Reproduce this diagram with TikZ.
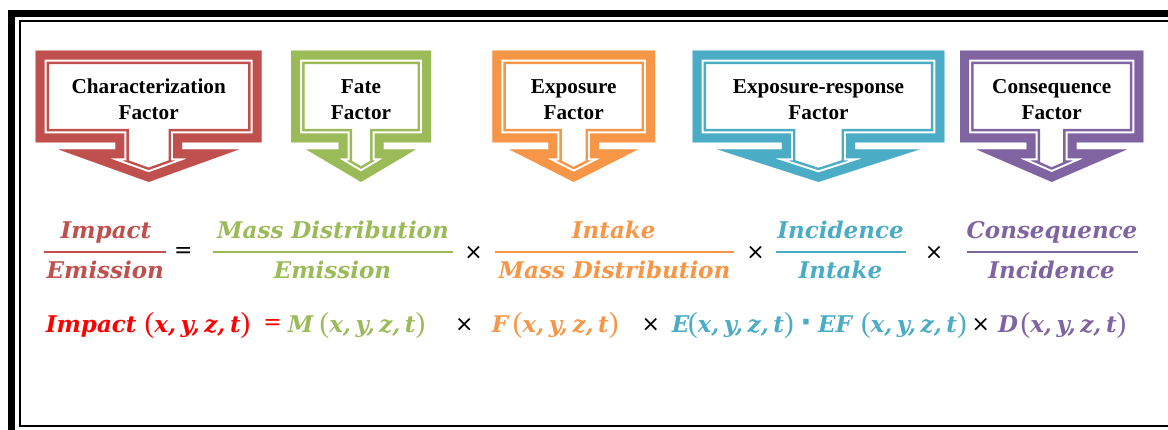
\documentclass[tikz,border=0pt]{standalone}
\usepackage{fontspec}
\setmainfont{Liberation Serif}
\newfontfamily\eqfont{DejaVu Serif}
\newfontfamily\symfont{DejaVu Sans}
\definecolor{accred}{HTML}{C0504D}
\definecolor{accgreen}{HTML}{9BBB59}
\definecolor{accorange}{HTML}{F79646}
\definecolor{accblue}{HTML}{4BACC6}
\definecolor{accpurple}{HTML}{8064A2}
\definecolor{purered}{HTML}{FF0000}
% argument list (x, y, z, t) with upright brackets
\newcommand\parfnt{\normalfont\fontsize{29}{29}\selectfont}
\newcommand\argsep{,\hspace{4.6pt}}
\newcommand\xyzt{{\parfnt(}x\argsep y\argsep z\argsep t{\parfnt)}}
\tikzset{
  every node/.style={inner sep=0pt, outer sep=0pt},
  line join=miter,
  cshape/.style n args={4}{insert path={
    ({#1-#2},50.7) -- ({#1+#2},50.7) -- ({#1+#2},142.5) -- ({#1+#3},142.5) --
    ({#1+#3},149.5) -- ({#1+#4},149.5) -- (#1,181.9) -- ({#1-#4},149.5) --
    ({#1-#3},149.5) -- ({#1-#3},142.5) -- ({#1-#2},142.5) -- cycle}},
  calloutlabel/.style={align=center, font=\fontsize{21.2}{26}\selectfont\bfseries, anchor=base},
  eq/.style={font=\fontsize{23}{24}\selectfont\eqfont\bfseries\itshape, anchor=base},
  eqw/.style={eq, anchor=base west},
  op/.style={font=\fontsize{22}{22}\selectfont\symfont, anchor=center, text=black},
  fracbar/.style={line width=1.8pt},
}
% down-pointing callout with a thick-thin border
\newcommand\calloutbox[7]{%
  \begin{scope}
    \clip[cshape={#1}{#2}{#3}{#4}];
    \draw[#5, line width=27pt, cshape={#1}{#2}{#3}{#4}];
    \draw[white, line width=22pt, cshape={#1}{#2}{#3}{#4}];
    \draw[#5, line width=18pt, cshape={#1}{#2}{#3}{#4}];
  \end{scope}
  \node[calloutlabel] (#6) at (#1,119.2) {#7};
}
\begin{document}
\begin{tikzpicture}[x=1pt,y=-1pt]
\useasboundingbox (0,0) rectangle (1168,430);
\clip (0,0) rectangle (1168,430);
\fill[white] (0,0) rectangle (1168,430);

% page frame
\draw[line width=7pt] (11.5,13.5) rectangle (1200,460);
\draw[line width=2pt] (19.5,20.8) rectangle (1200,426.3);

% factor callouts
\calloutbox{148.7}{113}{33.3}{90}{accred}{charf}{Characterization\\Factor}
\calloutbox{361}{70}{22.5}{54.7}{accgreen}{fatef}{Fate\\Factor}
\calloutbox{573.7}{81.3}{25.3}{64.2}{accorange}{expf}{Exposure\\Factor}
\calloutbox{818.5}{125.8}{36.7}{100.8}{accblue}{erf}{Exposure-response\\Factor}
\calloutbox{1051.7}{91.7}{25}{75}{accpurple}{consf}{Consequence\\Factor}

% ratio form
\node[eq, text=accred] (r1n) at (106,239) {Impact};
\node[eq, text=accred] (r1d) at (105.3,279) {Emission};
\draw[fracbar, accred] (44.3,252.3) -- (165.7,252.3);
\node[op] (r1eq) at (183.3,253) {=};
\node[eq, text=accgreen] (r2n) at (333,239) {Mass Distribution};
\node[eq, text=accgreen] (r2d) at (332.5,279) {Emission};
\draw[fracbar, accgreen] (213.3,252.3) -- (452.7,252.3);
\node[op] (r2x) at (473.5,253) {×};
\node[eq, text=accorange] (r3n) at (613.7,239) {Intake};
\node[eq, text=accorange] (r3d) at (614.5,279) {Mass Distribution};
\draw[fracbar, accorange] (495,252.3) -- (734,252.3);
\node[op] (r3x) at (755.6,253) {×};
\node[eq, text=accblue] (r4n) at (840.5,239) {Incidence};
\node[eq, text=accblue] (r4d) at (840.4,279) {Intake};
\draw[fracbar, accblue] (776,252.3) -- (905.6,252.3);
\node[op] (r4x) at (934,253) {×};
\node[eq, text=accpurple] (r5n) at (1052,239) {Consequence};
\node[eq, text=accpurple] (r5d) at (1051.5,279) {Incidence};
\draw[fracbar, accpurple] (966.5,252.3) -- (1137.7,252.3);

% function form
\node[eqw, text=purered] (fimp) at (45.9,333) {Impact};
\node[eqw, text=purered] (fimpa) at (144.7,333) {\xyzt};
\node[op, text=purered] (feq) at (272.6,325) {=};
\node[eqw, text=accgreen] (fm) at (287.8,333) {M};
\node[eqw, text=accgreen] (fma) at (319.6,333) {\xyzt};
\node[op] (fx1) at (464.3,325) {×};
\node[eqw, text=accorange] (ff) at (491.8,333) {F};
\node[eqw, text=accorange] (ffa) at (512.8,333) {\xyzt};
\node[op] (fx2) at (650.8,325) {×};
\node[eqw, text=accblue] (fe) at (671.9,333) {E};
\node[eqw, text=accblue] (fea) at (688,333) {\xyzt};
\node[op, text=accblue, font=\fontsize{30}{30}\selectfont\symfont\bfseries] (fdot) at (806,326) {·};
\node[eqw, text=accblue] (fef) at (818,333) {EF};
\node[eqw, text=accblue] (fefa) at (861,333) {\xyzt};
\node[op] (fx3) at (980.8,325) {×};
\node[eqw, text=accpurple] (fd) at (998,333) {D};
\node[eqw, text=accpurple] (fda) at (1020.6,333) {\xyzt};
\end{tikzpicture}
\end{document}
